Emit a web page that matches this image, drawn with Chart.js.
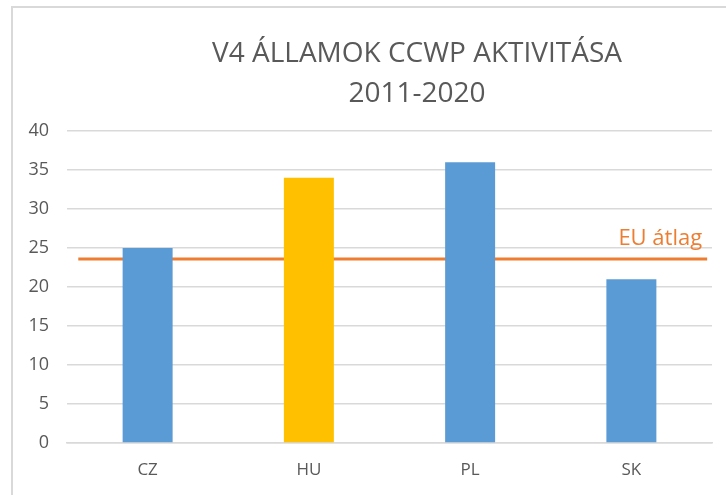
<!DOCTYPE html>
<html>
<head>
<meta charset="utf-8">
<script src="https://cdn.jsdelivr.net/npm/chart.js@4/dist/chart.umd.min.js"></script>
<style>
  html, body { margin: 0; padding: 0; background: #fff; overflow: hidden; }
  #frame {
    position: absolute; left: 11px; top: 6px; width: 800px; height: 600px;
    border-left: 2px solid #d9d9d9; border-top: 2px solid #d9d9d9;
  }
  #title {
    position: absolute; left: 117px; top: 31px; width: 600px;
    text-align: center; font-family: "Open Sans", sans-serif; font-weight: 400;
    font-size: 28px; line-height: 40px; color: #595959;
  }
  #chart { position: absolute; left: 0; top: 0; }
</style>
</head>
<body>
<div id="frame"></div>
<canvas id="chart" width="726" height="495"></canvas>
<div id="title">V4 ÁLLAMOK CCWP AKTIVITÁSA<br>2011-2020</div>
<script>
const countries = ["CZ", "HU", "PL", "SK"];
const activity = [25, 34, 36, 21];
const barColors = ["#5B9BD5", "#FFC000", "#5B9BD5", "#5B9BD5"];
const euAverage = 23.6;
const euLineSpan = [-0.43, 3.47];
const yTicks = [0, 5, 10, 15, 20, 25, 30, 35, 40];

// label written just above the right end of the EU average line
const euLabel = {
  id: "euLabel",
  afterDatasetsDraw(chart) {
    const { ctx, scales } = chart;
    const x = scales.xLine.getPixelForValue(euLineSpan[1]) - 5;
    const y = scales.y.getPixelForValue(euAverage) - 14;
    ctx.save();
    ctx.font = "22px 'Open Sans', sans-serif";
    ctx.fillStyle = "#ED7D31";
    ctx.textAlign = "right";
    ctx.textBaseline = "alphabetic";
    ctx.fillText("EU átlag", x, y);
    ctx.restore();
  }
};

Chart.defaults.font.family = "'Open Sans', sans-serif";
Chart.defaults.color = "#595959";

new Chart(document.getElementById("chart"), {
  type: "bar",
  data: {
    labels: countries,
    datasets: [
      {
        label: "Aktivitás",
        data: activity,
        backgroundColor: barColors,
        grouped: false,
        categoryPercentage: 1,
        barPercentage: 0.31
      },
      {
        type: "line",
        label: "EU átlag",
        data: euLineSpan.map(x => ({ x: x, y: euAverage })),
        xAxisID: "xLine",
        borderColor: "#ED7D31",
        borderWidth: 3,
        pointRadius: 0,
        fill: false
      }
    ]
  },
  options: {
    responsive: false,
    animation: false,
    layout: { padding: { left: 17, right: 14, top: 131, bottom: 15 } },
    plugins: { legend: { display: false }, tooltip: { enabled: false } },
    scales: {
      x: {
        afterFit: s => { s.height = 37; },
        grid: { display: false, drawTicks: false },
        border: { color: "#d9d9d9", width: 1.5 },
        ticks: { padding: 17, font: { size: 17 } }
      },
      xLine: {
        type: "linear", display: false, offset: false, min: -0.5, max: 3.5
      },
      y: {
        min: 0, max: 40,
        afterFit: s => { s.width = 50; },
        afterBuildTicks: s => { s.ticks = yTicks.map(v => ({ value: v })); },
        grid: { color: "#d9d9d9", lineWidth: 1.5, drawTicks: false },
        border: { display: false },
        ticks: { padding: 18, font: { size: 18 } }
      }
    }
  },
  plugins: [euLabel]
});
</script>
</body>
</html>
